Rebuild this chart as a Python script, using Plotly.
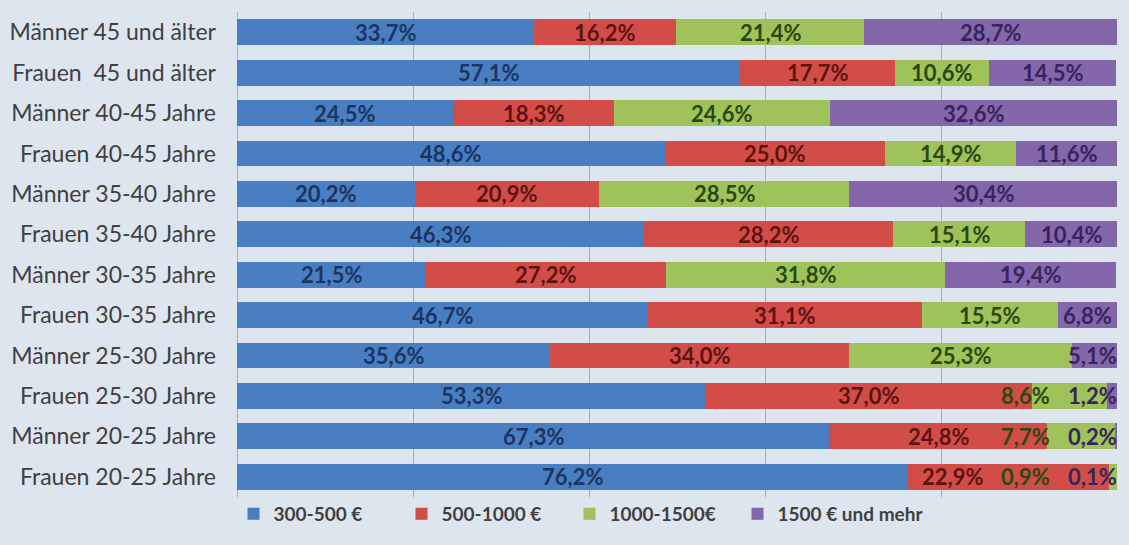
import plotly.graph_objects as go

categories = [
    "Männer 45 und älter",
    "Frauen  45 und älter",
    "Männer 40-45 Jahre",
    "Frauen 40-45 Jahre",
    "Männer 35-40 Jahre",
    "Frauen 35-40 Jahre",
    "Männer 30-35 Jahre",
    "Frauen 30-35 Jahre",
    "Männer 25-30 Jahre",
    "Frauen 25-30 Jahre",
    "Männer 20-25 Jahre",
    "Frauen 20-25 Jahre",
]
series_names = ["300-500 €", "500-1000 €", "1000-1500€", "1500 € und mehr"]
v_300_500 = [33.7, 57.1, 24.5, 48.6, 20.2, 46.3, 21.5, 46.7, 35.6, 53.3, 67.3, 76.2]
v_500_1000 = [16.2, 17.7, 18.3, 25.0, 20.9, 28.2, 27.2, 31.1, 34.0, 37.0, 24.8, 22.9]
v_1000_1500 = [21.4, 10.6, 24.6, 14.9, 28.5, 15.1, 31.8, 15.5, 25.3, 8.6, 7.7, 0.9]
v_1500_plus = [28.7, 14.5, 32.6, 11.6, 30.4, 10.4, 19.4, 6.8, 5.1, 1.2, 0.2, 0.1]

series_values = [v_300_500, v_500_1000, v_1000_1500, v_1500_plus]
bar_colors = ["#4a7ec2", "#d24d48", "#9fc35a", "#8466ab"]
label_colors = ["#1c3461", "#5e1212", "#2b4712", "#36245a"]

FONT = "Lato"
LABEL_SIZE = 22

fig = go.Figure()
for name, vals, col in zip(series_names, series_values, bar_colors):
    fig.add_trace(go.Bar(
        y=categories, x=vals, name=name, orientation="h",
        marker=dict(color=col, line=dict(width=0)),
        hoverinfo="skip",
    ))
# invisible zero-length spacer entry so the last legend label is not clipped
fig.add_trace(go.Bar(
    y=[categories[0]], x=[0], name=" ", orientation="h",
    marker=dict(color="rgba(0,0,0,0)", line=dict(width=0)),
    hoverinfo="skip",
))

# data labels: centred in each segment, pushed left when they would overflow / overlap
px_per_unit = 880 / 100.0
gap = 2.0
annotations = []
for r, cat in enumerate(categories):
    vals = [s[r] for s in series_values]
    texts = [f"{v:.1f}".replace(".", ",") + "%" for v in vals]
    widths = [len(t) * 0.56 * LABEL_SIZE / px_per_unit for t in texts]
    starts = []
    acc = 0.0
    for v in vals:
        starts.append(acc)
        acc += v
    centers = [s + v / 2 for s, v in zip(starts, vals)]
    limit = 100.0
    for i in range(len(vals) - 1, -1, -1):
        half = widths[i] / 2
        centers[i] = min(centers[i], limit - half)
        limit = centers[i] - half - gap
    for i in range(len(vals)):
        annotations.append(dict(
            x=centers[i], y=cat, xref="x", yref="y", text=texts[i],
            showarrow=False, xanchor="center", yanchor="middle",
            font=dict(family=FONT, size=LABEL_SIZE, color=label_colors[i], weight="bold"),
        ))

fig.update_layout(
    width=1129, height=545,
    barmode="stack", bargap=0.36,
    paper_bgcolor="#dde5ef", plot_bgcolor="#dde5ef",
    margin=dict(l=237, r=12, t=12, b=42),
    font=dict(family=FONT, color="#404040"),
    annotations=annotations,
    showlegend=True,
    legend=dict(
        orientation="h", x=-0.004, xanchor="left", y=-0.035, yanchor="middle",
        traceorder="normal", entrywidth=123, entrywidthmode="pixels",
        font=dict(family=FONT, size=19, color="#404040", weight="bold"),
        bgcolor="rgba(0,0,0,0)",
    ),
)
fig.update_xaxes(
    range=[0, 100], dtick=20, showticklabels=False,
    showgrid=True, gridcolor="#a9aeb5", gridwidth=1,
    zeroline=True, zerolinecolor="#a9aeb5", zerolinewidth=1,
    fixedrange=True,
)
fig.update_yaxes(
    categoryorder="array", categoryarray=categories, autorange="reversed",
    tickfont=dict(family=FONT, size=23, color="#404040"),
    ticks="", ticklabelstandoff=20, showgrid=False, fixedrange=True,
    automargin=False,
)

fig.write_html(
    "out.html",
    config={"displayModeBar": False},
    post_script="document.body.style.margin='0';document.body.style.overflow='hidden';",
)
